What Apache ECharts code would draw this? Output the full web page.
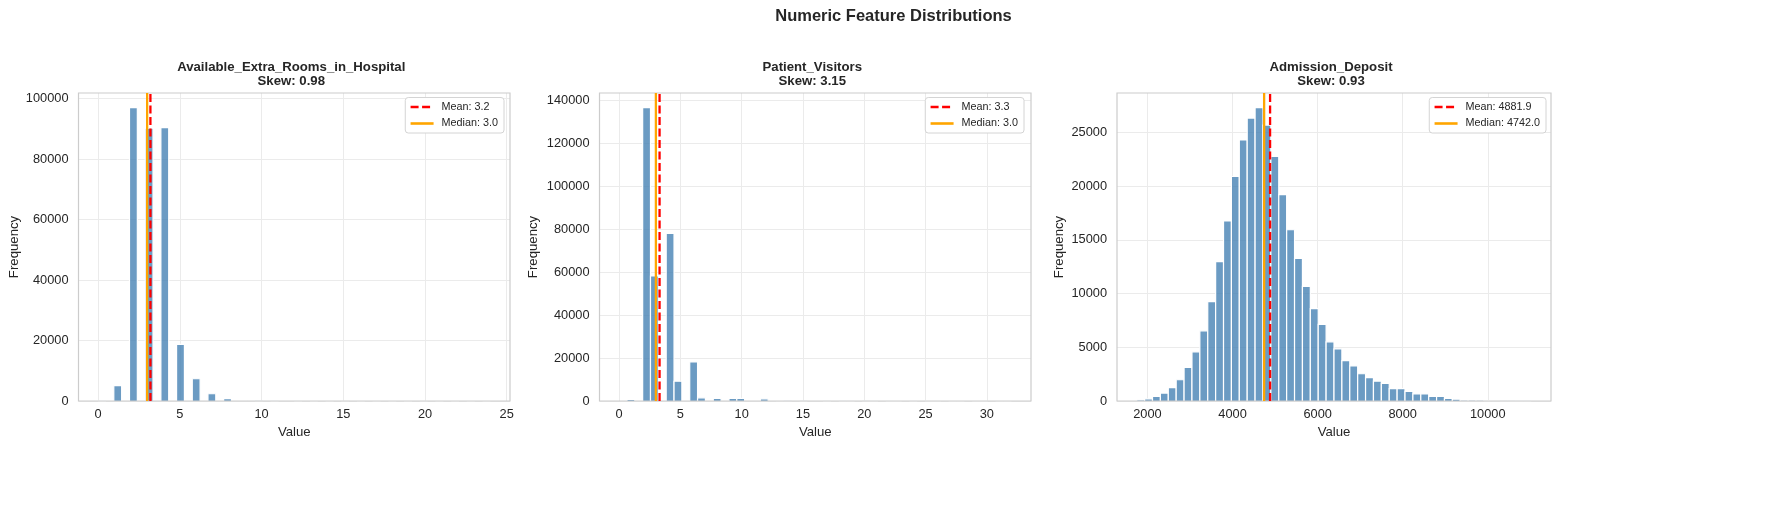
<!DOCTYPE html>
<html>
<head>
<meta charset="utf-8">
<title>Numeric Feature Distributions</title>
<script src="https://cdn.jsdelivr.net/npm/echarts@6/dist/echarts.min.js"></script>
<style>
html, body { margin: 0; padding: 0; background: #fff; }
#main { width: 1787px; height: 513px; }
</style>
</head>
<body>
<div id="main"></div>
<script>
// ---------------- data ----------------
// each histogram: 50 equal bins over [min, max] of the column
var roomsRange = [0, 24];
var roomsCounts = [
	40, 0, 5100, 0, 97000, 0, 90200, 0, 90400, 0,
	18700, 0, 7350, 0, 2400, 0, 800, 0, 220, 0,
	90, 0, 40, 0, 0, 25, 0, 15, 0, 10,
	0, 8, 0, 6, 0, 5, 0, 4, 0, 3,
	0, 3, 0, 2, 0, 2, 0, 1, 0, 2
];
var roomsStats = {mean: 3.2, median: 3.0, skew: 0.98};

var visitorsRange = [0, 32];
var visitorsCounts = [
	0, 700, 0, 136600, 58200, 0, 78000, 9200, 0, 18200,
	1500, 0, 1200, 0, 1200, 1200, 0, 300, 1000, 0,
	150, 120, 0, 100, 0, 250, 60, 0, 50, 40,
	0, 100, 30, 0, 30, 20, 0, 40, 0, 15,
	20, 0, 10, 10, 0, 5, 10, 0, 5, 20
];
var visitorsStats = {mean: 3.3, median: 3.0, skew: 3.15};

var depositRange = [1747, 11022];
var depositCounts = [
	100, 200, 420, 740, 1250, 1980, 3120, 4580, 6540, 9250,
	12980, 16770, 20910, 24320, 26350, 27320, 25700, 22770, 19230, 15950,
	13280, 10680, 8600, 7130, 5510, 4860, 3760, 3270, 2540, 2180,
	1850, 1640, 1150, 1150, 900, 660, 660, 420, 420, 250,
	170, 90, 90, 70, 40, 30, 20, 15, 10, 10
];
var depositStats = {mean: 4881.9, median: 4742.0, skew: 0.93};

var featureNames = ['Available_Extra_Rooms_in_Hospital', 'Patient_Visitors', 'Admission_Deposit'];

// tick labels
var roomsXTicks = [0, 5, 10, 15, 20, 25];
var visitorsXTicks = [0, 5, 10, 15, 20, 25, 30];
var depositXTicks = [2000, 4000, 6000, 8000, 10000];
var roomsYTicks = [0, 20000, 40000, 60000, 80000, 100000];
var visitorsYTicks = [0, 20000, 40000, 60000, 80000, 100000, 120000, 140000];
var depositYTicks = [0, 5000, 10000, 15000, 20000, 25000];

// ---------------- layout / style ----------------
var TEXT = '#262626';
var FONT = '"Liberation Sans", Arial, Helvetica, sans-serif';
var BAR = 'rgba(70, 130, 180, 0.8)';
var GRID_TOP = 93, GRID_H = 308;
var layouts = [
	{left: 78.5, width: 431.5, legendRight: 1283, nameGap: 58},
	{left: 599.5, width: 431.5, legendRight: 763, nameGap: 60},
	{left: 1117, width: 434, legendRight: 241, nameGap: 51}
];

var panels = [
	{range: roomsRange, counts: roomsCounts, stats: roomsStats, xTicks: roomsXTicks, yTicks: roomsYTicks},
	{range: visitorsRange, counts: visitorsCounts, stats: visitorsStats, xTicks: visitorsXTicks, yTicks: visitorsYTicks},
	{range: depositRange, counts: depositCounts, stats: depositStats, xTicks: depositXTicks, yTicks: depositYTicks}
];

function histData(range, counts) {
	var w = (range[1] - range[0]) / counts.length;
	var out = [];
	counts.forEach(function (c, i) {
		if (c > 0) out.push([range[0] + i * w, range[0] + (i + 1) * w, c]);
	});
	return out;
}

// 柱子: 填充 + 白色边 (底边不描, 免得盖住坐标框)
function renderBar(params, api) {
	var p0 = api.coord([api.value(0), api.value(2)]);
	var p1 = api.coord([api.value(1), 0]);
	return {
		type: 'group',
		children: [{
			type: 'rect',
			shape: {x: p0[0], y: p0[1], width: p1[0] - p0[0], height: p1[1] - p0[1]},
			style: {fill: BAR}
		}, {
			type: 'polyline',
			shape: {points: [[p0[0], p1[1]], [p0[0], p0[1]], [p1[0], p0[1]], [p1[0], p1[1]]]},
			style: {fill: null, stroke: '#fff', lineWidth: 1.2}
		}]
	};
}

var title = [{
	text: 'Numeric Feature Distributions',
	left: 'center', top: 6, padding: 0,
	textStyle: {fontFamily: FONT, fontSize: 16.5, fontWeight: 'bold', color: TEXT, lineHeight: 20}
}];
var legend = [], grid = [], xAxis = [], yAxis = [], series = [];

panels.forEach(function (p, i) {
	var L = layouts[i];
	var span = p.range[1] - p.range[0];
	var yMax = Math.max.apply(null, p.counts) * 1.05;
	var meanName = 'Mean: ' + p.stats.mean.toFixed(1);
	var medianName = 'Median: ' + p.stats.median.toFixed(1);

	title.push({
		text: featureNames[i] + '\nSkew: ' + p.stats.skew.toFixed(2),
		left: L.left + L.width / 2 - 3, top: 60, padding: 0, textAlign: 'center',
		textStyle: {fontFamily: FONT, fontSize: 13.2, fontWeight: 'bold', color: TEXT, lineHeight: 14.5}
	});

	grid.push({
		left: L.left, top: GRID_TOP, width: L.width, height: GRID_H,
		show: true, z: 3, backgroundColor: 'transparent',
		borderColor: '#cccccc', borderWidth: 1.2
	});

	xAxis.push({
		type: 'value', gridIndex: i,
		min: p.range[0] - 0.05 * span, max: p.range[1] + 0.05 * span,
		name: 'Value', nameLocation: 'middle', nameGap: 24,
		nameTextStyle: {fontFamily: FONT, fontSize: 13.2, color: TEXT},
		axisLine: {show: false},
		axisTick: {show: false, customValues: p.xTicks},
		axisLabel: {customValues: p.xTicks, fontFamily: FONT, fontSize: 12.8, color: TEXT, margin: 7, formatter: function (v) { return String(v); }},
		splitLine: {show: true, lineStyle: {color: '#ebebeb', width: 1}}
	});

	yAxis.push({
		type: 'value', gridIndex: i, min: 0, max: yMax,
		name: 'Frequency', nameLocation: 'middle', nameGap: L.nameGap,
		nameTextStyle: {fontFamily: FONT, fontSize: 13.2, color: TEXT},
		axisLine: {show: false},
		axisTick: {show: false, customValues: p.yTicks},
		axisLabel: {customValues: p.yTicks, fontFamily: FONT, fontSize: 12.8, color: TEXT, margin: 10, formatter: function (v) { return String(v); }},
		splitLine: {show: true, lineStyle: {color: '#ebebeb', width: 1}}
	});

	series.push({
		type: 'custom', xAxisIndex: i, yAxisIndex: i, z: 2,
		renderItem: renderBar,
		encode: {x: [0, 1], y: 2},
		data: histData(p.range, p.counts)
	});
	series.push({
		name: meanName, type: 'line', xAxisIndex: i, yAxisIndex: i, z: 5,
		symbol: 'none', silent: true,
		lineStyle: {color: '#ff0000', width: 2.3, type: [8, 3.5]},
		itemStyle: {color: '#ff0000'},
		data: [[p.stats.mean, 0], [p.stats.mean, yMax]]
	});
	series.push({
		name: medianName, type: 'line', xAxisIndex: i, yAxisIndex: i, z: 5,
		symbol: 'none', silent: true,
		lineStyle: {color: '#ffa500', width: 2.3},
		itemStyle: {color: '#ffa500'},
		data: [[p.stats.median, 0], [p.stats.median, yMax]]
	});

	legend.push({
		data: [meanName, medianName],
		orient: 'vertical', right: L.legendRight, top: 97.5,
		selectedMode: false,
		backgroundColor: '#fff', borderColor: '#d4d4d4', borderWidth: 1, borderRadius: 3,
		padding: [4, 6, 4, 4],
		itemWidth: 23, itemHeight: 10, itemGap: 5.5,
		itemStyle: {opacity: 0}, // 图例里只要线, 不要圆点
		lineStyle: {width: 2.6},
		textStyle: {fontFamily: FONT, fontSize: 10.8, color: TEXT, padding: [0, 0, 0, 3]}
	});
});

var chart = echarts.init(document.getElementById('main'));
chart.setOption({
	animation: false,
	backgroundColor: '#fff',
	textStyle: {fontFamily: FONT},
	title: title,
	legend: legend,
	grid: grid,
	xAxis: xAxis,
	yAxis: yAxis,
	series: series
});
</script>
</body>
</html>
